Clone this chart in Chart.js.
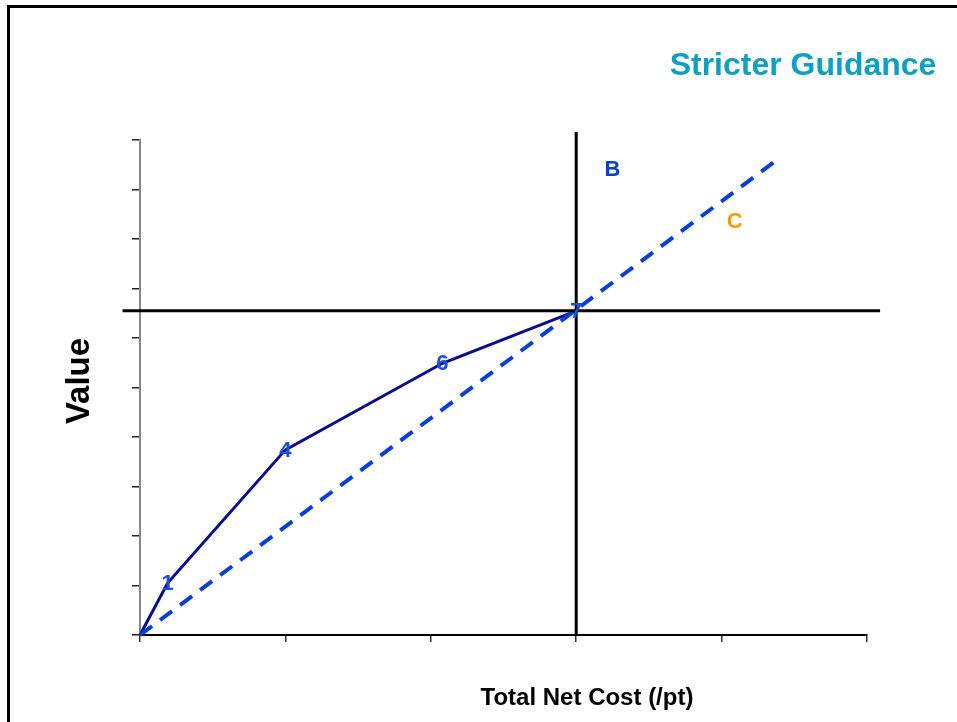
<!DOCTYPE html>
<html>
<head>
<meta charset="utf-8">
<script src="https://cdn.jsdelivr.net/npm/chart.js@4/dist/chart.umd.min.js"></script>
<style>
  html, body { margin: 0; padding: 0; background: #fff; }
  canvas { display: block; }
</style>
</head>
<body>
<canvas id="valueChart" width="957" height="722"></canvas>
<script>
// path of options (solid line) and its point labels
var pathX = [0, 0.19, 1.0, 2.08, 3.0];
var pathY = [0, 1.05, 3.74, 5.49, 6.55];
var pathLabels = ["", "1", "4", "6", "7"];

// dashed reference line
var trendX = [0, 4.40];
var trendY = [0, 9.64];

// threshold cross lines
var thresholdY = 6.55;
var thresholdX = 3.0;
var hLineX = [-0.12, 5.09];
var vLineY = [0, 10.16];

// region labels
var zoneLabels = ["B", "C"];
var zoneX = [3.25, 4.09];
var zoneY = [9.39, 8.34];
var zoneColors = ["#0a3fcc", "#f59b00"];

var xTicks = [0, 1, 2, 3, 4, 5];
var yTicks = [0, 1, 2, 3, 4, 5, 6, 7, 8, 9, 10];

var ctx = document.getElementById("valueChart").getContext("2d");

function pts(xs, ys) {
  return xs.map(function (x, i) { return { x: x, y: ys[i] }; });
}

var textPlugin = {
  id: "textPlugin",
  beforeDraw: function (chart) {
    var c = chart.ctx;
    c.save();
    c.fillStyle = "#fff";
    c.fillRect(0, 0, chart.width, chart.height);
    c.strokeStyle = "#000";
    c.lineWidth = 3;
    c.strokeRect(8.5, 6.5, 1200, 1200);
    c.restore();
  },
  afterDatasetsDraw: function (chart) {
    var c = chart.ctx;
    var xs = chart.scales.x, ys = chart.scales.y;
    c.save();
    c.textAlign = "center";
    c.textBaseline = "middle";

    // point labels
    c.font = "bold 22px 'Liberation Sans', Arial, sans-serif";
    c.fillStyle = "#1c4fd8";
    pathLabels.forEach(function (lab, i) {
      if (!lab) return;
      c.fillText(lab, xs.getPixelForValue(pathX[i]), ys.getPixelForValue(pathY[i]) + 1);
    });

    // zone labels
    zoneLabels.forEach(function (lab, i) {
      c.fillStyle = zoneColors[i];
      c.fillText(lab, xs.getPixelForValue(zoneX[i]), ys.getPixelForValue(zoneY[i]));
    });

    // title
    c.font = "bold 32px 'Liberation Sans', Arial, sans-serif";
    c.fillStyle = "#0fa0c0";
    c.fillText("Stricter Guidance", 803, 66);

    // axis titles
    c.fillStyle = "#000";
    c.font = "bold 24px 'Liberation Sans', Arial, sans-serif";
    c.fillText("Total Net Cost (/pt)", 587, 698);

    c.translate(80, 381);
    c.rotate(-Math.PI / 2);
    c.font = "bold 33px 'Liberation Sans', Arial, sans-serif";
    c.fillText("Value", 0, 0);
    c.restore();
  }
};

var valueChart = new Chart(ctx, {
  type: "scatter",
  data: {
    datasets: [
      {
        label: "threshold-h",
        data: pts(hLineX, [thresholdY, thresholdY]),
        showLine: true,
        borderColor: "#000",
        borderWidth: 3,
        pointRadius: 0,
        clip: false
      },
      {
        label: "threshold-v",
        data: pts([thresholdX, thresholdX], vLineY),
        showLine: true,
        borderColor: "#000",
        borderWidth: 3,
        pointRadius: 0,
        clip: false
      },
      {
        label: "trend",
        data: pts(trendX, trendY),
        showLine: true,
        borderColor: "#0a3fd6",
        borderWidth: 4,
        borderDash: [15, 10],
        pointRadius: 0,
        clip: false
      },
      {
        label: "path",
        data: pts(pathX, pathY),
        showLine: true,
        borderColor: "#0c0c8a",
        borderWidth: 3,
        pointRadius: 0,
        clip: false
      }
    ]
  },
  options: {
    responsive: false,
    animation: false,
    layout: { padding: { left: 132, right: 90, top: 140, bottom: 0 } },
    plugins: {
      legend: { display: false },
      tooltip: { enabled: false }
    },
    scales: {
      x: {
        type: "linear",
        min: 0,
        max: 5,
        afterBuildTicks: function (scale) {
          scale.ticks = xTicks.map(function (v) { return { value: v }; });
        },
        afterFit: function (scale) { scale.height = 87; },
        border: { display: true, color: "#000", width: 2 },
        grid: { drawOnChartArea: false, drawTicks: true, tickLength: 7, color: "#333", lineWidth: 1.5 },
        ticks: { display: false }
      },
      y: {
        type: "linear",
        min: 0,
        max: 10,
        afterBuildTicks: function (scale) {
          scale.ticks = yTicks.map(function (v) { return { value: v }; });
        },
        afterFit: function (scale) { scale.width = 8; },
        border: { display: true, color: "#888", width: 2 },
        grid: { drawOnChartArea: false, drawTicks: true, tickLength: 8, color: "#222", lineWidth: 1.5 },
        ticks: { display: false }
      }
    }
  },
  plugins: [textPlugin]
});
</script>
</body>
</html>
